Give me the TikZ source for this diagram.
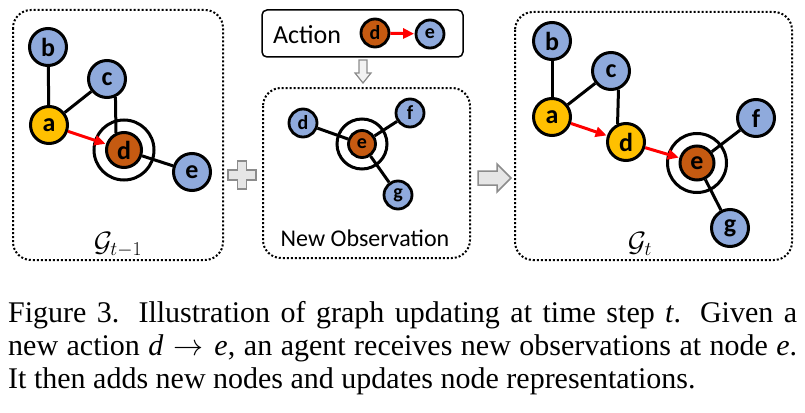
\RequirePackage{fix-cm}
\documentclass[tikz,border=0pt]{standalone}
\usepackage{amsmath}
\usepackage{fontspec}
\setmainfont{Liberation Serif}
\newfontfamily\calibri{Carlito}
\usetikzlibrary{arrows.meta,backgrounds}

\definecolor{nodeblue}{HTML}{8FAADC}
\definecolor{nodeyellow}{HTML}{FFC000}
\definecolor{nodebrown}{HTML}{C55A11}
\definecolor{shapegrey}{HTML}{E6E6E6}
\definecolor{linegrey}{HTML}{8C8C8C}

\begin{document}
\begin{tikzpicture}[x=1pt,y=1pt,yscale=-1,
  gnode/.style={circle,draw=black,line width=3pt,minimum size=37pt,inner sep=0pt,
    font=\calibri\bfseries\fontsize{26}{26}\selectfont},
  snode/.style={gnode,line width=2.8pt,minimum size=28pt,
    font=\calibri\bfseries\fontsize{20}{20}\selectfont},
  ring/.style={circle,draw=black,line width=3pt,inner sep=0pt},
  edge/.style={line width=3pt,black},
  act/.style={line width=3pt,red,-{Triangle[length=11pt,width=10pt]},shorten >=0.5pt},
  dotbox/.style={line width=2pt,dash pattern=on 2pt off 2pt,rounded corners=18pt},
  greyshape/.style={draw=linegrey,fill=shapegrey,line width=1.5pt,line join=miter},
  label/.style={inner sep=0pt,font=\calibri\fontsize{25}{25}\selectfont},
  caption/.style={anchor=base west,inner sep=0pt,font=\fontsize{30}{33}\selectfont}
]
\useasboundingbox (0,0) rectangle (805,412);

%Shape: Rectangle (left graph)
\draw[dotbox] (13,10) rectangle (223,260);
%Shape: Rectangle (new observation)
\draw[dotbox] (263,88) rectangle (470,258);
%Shape: Rectangle (right graph)
\draw[dotbox] (515,12) rectangle (792,260);
%Shape: Rectangle (action)
\draw[line width=1.5pt,rounded corners=5pt] (262,10) rectangle (463,57);

% Graph G_{t-1}
\node[gnode,fill=nodeblue] (b1) at (48,47) {b};
\node[gnode,fill=nodeblue] (c1) at (107,79) {c};
\node[gnode,fill=nodeyellow] (a1) at (49,125) {a};
\node[gnode,fill=nodebrown,minimum size=35pt] (d1) at (124,150) {d};
\node[gnode,fill=nodeblue] (e1) at (192,172) {e};
\node[ring,minimum size=60pt] (ring1) at (d1) {};

% Action
\node[label,font=\calibri\fontsize{26}{26}\selectfont] (acttext) at (307,35) {Action};
\node[snode,fill=nodebrown] (d3) at (375,33) {d};
\node[snode,fill=nodeblue] (e3) at (430,34) {e};

% New Observation
\node[snode,fill=nodeblue] (d2) at (303,123) {d};
\node[snode,fill=nodebrown,minimum size=27pt] (e2) at (362,144) {e};
\node[snode,fill=nodeblue] (f2) at (410,113) {f};
\node[snode,fill=nodeblue] (g2) at (398,195) {g};
\node[ring,minimum size=50pt] (ring2) at (e2) {};

% Graph G_t
\node[gnode,fill=nodeblue] (b4) at (552,41) {b};
\node[gnode,fill=nodeblue] (c4) at (611,71) {c};
\node[gnode,fill=nodeyellow] (a4) at (552,117) {a};
\node[gnode,fill=nodeyellow] (d4) at (626,142) {d};
\node[gnode,fill=nodebrown,minimum size=34pt] (e4) at (697,163) {e};
\node[gnode,fill=nodeblue] (f4) at (756,118) {f};
\node[gnode,fill=nodeblue] (g4) at (730,228) {g};
\node[ring,minimum size=59pt] (ring4) at (e4) {};

% Connection
\begin{scope}[on background layer]
\draw[edge] (b1) -- (a1);
\draw[edge] (a1) -- (c1);
\draw[edge] (c1.-65) -- (d1.115);
\draw[edge] (d1) -- (e1);
\draw[edge] (e2) -- (d2);
\draw[edge] (e2) -- (f2);
\draw[edge] (e2) -- (g2);
\draw[edge] (b4) -- (a4);
\draw[edge] (a4) -- (c4);
\draw[edge] (c4.-68) -- (d4.115);
\draw[edge] (e4) -- (f4);
\draw[edge] (e4) -- (g4);
\end{scope}
\draw[act] (a1) -- (d1);
\draw[act] (d3) -- (e3);
\draw[act] (a4) -- (d4);
\draw[act] (d4) -- (e4);

%Shape: Plus
\draw[greyshape] (237.5,161) -- (246.5,161) -- (246.5,170) -- (256,170) -- (256,180) -- (246.5,180)
  -- (246.5,189) -- (237.5,189) -- (237.5,180) -- (228,180) -- (228,170) -- (237.5,170) -- cycle;
%Shape: Right Arrow
\draw[greyshape] (478,171) -- (497,171) -- (497,164) -- (511,178) -- (497,192) -- (497,185) -- (478,185) -- cycle;
%Shape: Down Arrow
\draw[greyshape,fill=white!95!black,line width=1.2pt] (359,60) -- (367,60) -- (367,73) -- (371,73) -- (363,83)
  -- (355,73) -- (359,73) -- cycle;

% Text Node
\node[label,font=\fontsize{28}{28}\selectfont] (gprev) at (118,245) {$\mathcal{G}_{t-1}$};
% Text Node
\node[label,font=\fontsize{28}{28}\selectfont] (gnow) at (640,244) {$\mathcal{G}_{t}$};
% Text Node
\node[label,font=\calibri\fontsize{24}{24}\selectfont] (obstext) at (365,238) {New Observation};

% Text Node
\node[caption] (cap1) at (8,322) {\makebox[789pt][s]{Figure 3.  Illustration of graph updating at time step \textit{t}.  Given a}};
% Text Node
\node[caption] (cap2) at (8,355) {\makebox[789pt][s]{new action \textit{d}$\;\rightarrow\;$\textit{e}, an agent receives new observations at node \textit{e}.}};
% Text Node
\node[caption] (cap3) at (8,388) {It then adds new nodes and updates node representations.};

\end{tikzpicture}
\end{document}
